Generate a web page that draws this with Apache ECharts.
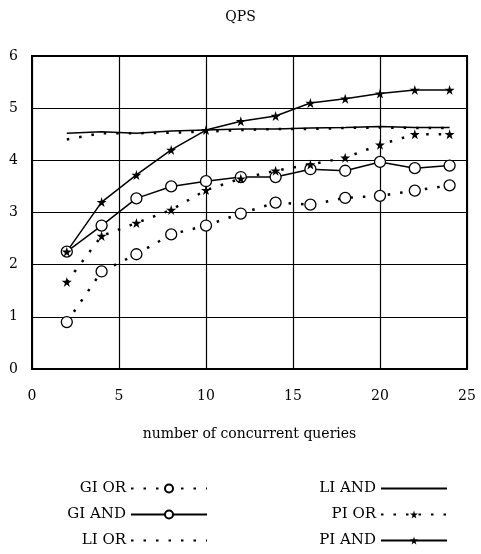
<!DOCTYPE html>
<html>
<head>
<meta charset="utf-8">
<script src="https://cdn.jsdelivr.net/npm/echarts@6/dist/echarts.min.js"></script>
<style>
  html, body { margin: 0; padding: 0; background: #fff; }
  #chart { width: 481px; height: 554px; }
</style>
</head>
<body>
<div id="chart"></div>
<script>
// concurrent queries
const xValues = [2, 4, 6, 8, 10, 12, 14, 16, 18, 20, 22, 24];

// QPS per series
const giOr  = [0.90, 1.87, 2.20, 2.58, 2.75, 2.98, 3.19, 3.15, 3.28, 3.32, 3.42, 3.52];
const giAnd = [2.25, 2.75, 3.27, 3.50, 3.60, 3.68, 3.68, 3.83, 3.80, 3.97, 3.85, 3.90];
const liOr  = [4.40, 4.52, 4.52, 4.53, 4.55, 4.58, 4.60, 4.60, 4.62, 4.63, 4.62, 4.62];
const liAnd = [4.52, 4.55, 4.52, 4.56, 4.58, 4.60, 4.60, 4.62, 4.63, 4.65, 4.63, 4.63];
const piOr  = [1.67, 2.55, 2.80, 3.05, 3.43, 3.65, 3.80, 3.92, 4.05, 4.30, 4.50, 4.50];
const piAnd = [2.25, 3.20, 3.72, 4.20, 4.58, 4.75, 4.85, 5.10, 5.18, 5.28, 5.35, 5.35];

const font = 'DejaVu Serif';
const star = 'path://M50,0 L61,35 L98,35 L68,57 L79,91 L50,70 L21,91 L32,57 L2,35 L39,35 Z';
const dotted = [2.5, 10];

function pairs(ys) {
    return xValues.map((x, i) => [x, ys[i]]);
}

function makeSeries(name, ys, dashed, symbol) {
    let s = {
        name: name,
        type: 'line',
        data: pairs(ys),
        color: '#000',
        symbol: symbol || 'none',
        symbolSize: symbol === 'circle' ? 11 : 10,
        showSymbol: !!symbol,
        lineStyle: {
            color: '#000',
            width: dashed ? 2.5 : 1.5,
            type: dashed ? dotted : 'solid',
            cap: 'butt'
        },
        itemStyle: {
            color: symbol === 'circle' ? '#fff' : '#000',
            borderColor: '#000',
            borderWidth: symbol === 'circle' ? 1.3 : 0
        },
        emphasis: { disabled: true },
        animation: false
    }
    return s
}

// legend entries of plain lines get no marker
function plain(name) {
    return { name: name, itemStyle: { color: 'rgba(0,0,0,0)', borderWidth: 0, opacity: 0 } };
}

const chart = echarts.init(document.getElementById('chart'));

const legendCommon = {
    orient: 'vertical',
    align: 'right',
    top: 476,
    height: 90,
    itemHeight: 10,
    itemGap: 11,
    textStyle: { fontFamily: font, fontSize: 15, color: '#000' },
    selectedMode: false
};

chart.setOption({
    backgroundColor: '#fff',
    title: {
        text: 'QPS',
        left: 'center',
        top: 5,
        textStyle: { fontFamily: font, fontSize: 14, fontWeight: 'normal', color: '#000' }
    },
    grid: {
        left: 32,
        right: 14,
        top: 56,
        bottom: 185,
        show: true,
        borderColor: '#000',
        borderWidth: 2
    },
    legend: [
        Object.assign({ right: 268, itemWidth: 76, data: ['GI OR', 'GI AND', plain('LI OR')] }, legendCommon),
        Object.assign({ right: 28, itemWidth: 66, data: [plain('LI AND'), 'PI OR', 'PI AND'] }, legendCommon)
    ],
    xAxis: {
        type: 'value',
        min: 0,
        max: 25,
        interval: 5,
        name: 'number of concurrent queries',
        nameLocation: 'middle',
        nameGap: 58,
        nameTextStyle: { fontFamily: font, fontSize: 14, color: '#000' },
        axisLine: { show: false },
        axisTick: { show: false },
        axisLabel: { fontFamily: font, fontSize: 14, color: '#000', margin: 20 },
        splitLine: { show: true, lineStyle: { color: '#000', width: 1.2 } }
    },
    yAxis: {
        type: 'value',
        min: 0,
        max: 6,
        interval: 1,
        axisLine: { show: false },
        axisTick: { show: false },
        axisLabel: { fontFamily: font, fontSize: 14, color: '#000', margin: 14 },
        splitLine: { show: true, lineStyle: { color: '#000', width: 1.2 } }
    },
    series: [
        makeSeries('GI OR', giOr, true, 'circle'),
        makeSeries('GI AND', giAnd, false, 'circle'),
        makeSeries('LI OR', liOr, true),
        makeSeries('LI AND', liAnd, false),
        makeSeries('PI OR', piOr, true, star),
        makeSeries('PI AND', piAnd, false, star)
    ]
});
</script>
</body>
</html>
